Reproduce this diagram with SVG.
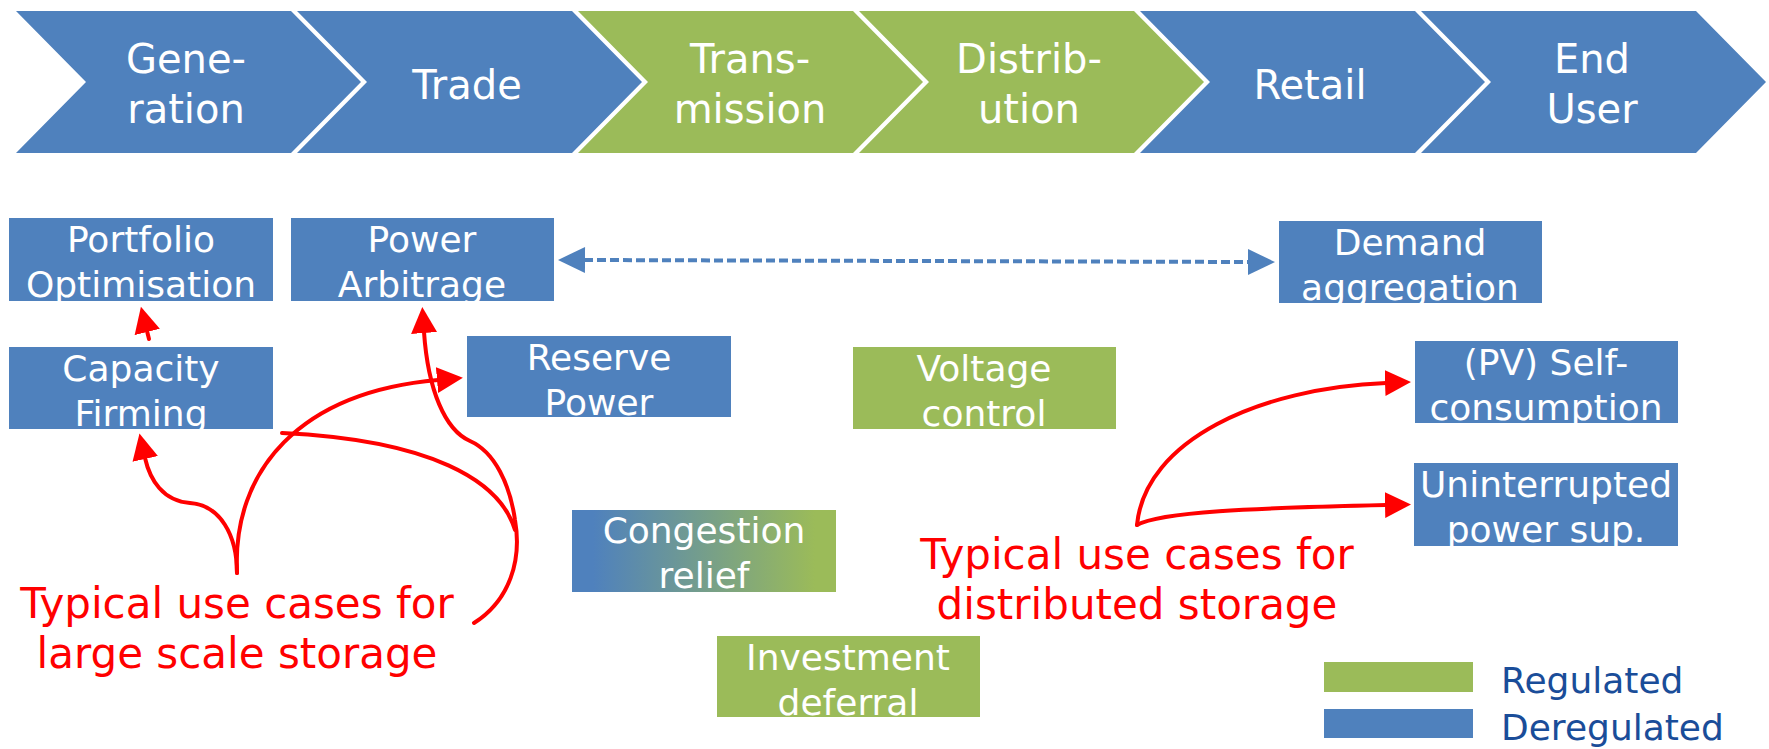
<svg xmlns="http://www.w3.org/2000/svg" width="1769" height="749" viewBox="0 0 1769 749">
<style>
.blue{fill:#4F81BD}
.green{fill:#9BBB59}
.ct{font-family:"DejaVu Sans",Verdana,sans-serif;font-size:40px;fill:#FFFFFF;text-anchor:middle}
.bt{font-family:"DejaVu Sans",Verdana,sans-serif;font-size:36px;fill:#FFFFFF;text-anchor:middle}
.rt{font-family:"DejaVu Sans",Verdana,sans-serif;font-size:42px;fill:#FF0000;text-anchor:middle}
.lt{font-family:"DejaVu Sans",Verdana,sans-serif;font-size:36px;fill:#1A4D99}
.red{fill:none;stroke:#FF0000;stroke-width:4;stroke-linecap:round}
.dash{fill:none;stroke:#4F81BD;stroke-width:4;stroke-dasharray:9 4}
</style>
<defs>
<linearGradient id="grad" x1="0" y1="0" x2="1" y2="0">
<stop offset="0.08" stop-color="#4F81BD"/>
<stop offset="0.92" stop-color="#9BBB59"/>
</linearGradient>
<marker id="ra" markerUnits="userSpaceOnUse" markerWidth="28" markerHeight="28" refX="1" refY="13" orient="auto">
<path d="M0,0 L26,13 L0,26 Z" fill="#FF0000"/>
</marker>
<marker id="ba" markerUnits="userSpaceOnUse" markerWidth="30" markerHeight="30" refX="1" refY="13" orient="auto">
<path d="M0,0 L27,13 L0,26 Z" fill="#4F81BD"/>
</marker>
<marker id="bs" markerUnits="userSpaceOnUse" markerWidth="30" markerHeight="30" refX="26" refY="13" orient="auto">
<path d="M27,0 L0,13 L27,26 Z" fill="#4F81BD"/>
</marker>
</defs>

<g id="chev-generation">
<polygon class="blue" points="16,11 291,11 361,82 291,153 16,153 86,82"/>
<text class="ct" x="186" y="73">Gene-</text>
<text class="ct" x="186" y="123">ration</text>
</g>
<g id="chev-trade">
<polygon class="blue" points="297,11 572,11 642,82 572,153 297,153 367,82"/>
<text class="ct" x="467" y="99">Trade</text>
</g>
<g id="chev-transmission">
<polygon class="green" points="578,11 853,11 923,82 853,153 578,153 648,82"/>
<text class="ct" x="750" y="73">Trans-</text>
<text class="ct" x="750" y="123">mission</text>
</g>
<g id="chev-distribution">
<polygon class="green" points="859,11 1134,11 1204,82 1134,153 859,153 929,82"/>
<text class="ct" x="1029" y="73">Distrib-</text>
<text class="ct" x="1029" y="123">ution</text>
</g>
<g id="chev-retail">
<polygon class="blue" points="1140,11 1415,11 1485,82 1415,153 1140,153 1210,82"/>
<text class="ct" x="1310" y="99">Retail</text>
</g>
<g id="chev-enduser">
<polygon class="blue" points="1421,11 1696,11 1766,82 1696,153 1421,153 1491,82"/>
<text class="ct" x="1592" y="73">End</text>
<text class="ct" x="1592" y="123">User</text>
</g>

<g id="portfolio">
<rect class="blue" x="9" y="218" width="264" height="83"/>
<text class="bt" x="141" y="252">Portfolio</text>
<text class="bt" x="141" y="297">Optimisation</text>
</g>
<g id="arbitrage">
<rect class="blue" x="291" y="218" width="263" height="83"/>
<text class="bt" x="422" y="252">Power</text>
<text class="bt" x="422" y="297">Arbitrage</text>
</g>
<g id="capacity">
<rect class="blue" x="9" y="347" width="264" height="82"/>
<text class="bt" x="141" y="381">Capacity</text>
<text class="bt" x="141" y="426">Firming</text>
</g>
<g id="reserve">
<rect class="blue" x="467" y="336" width="264" height="81"/>
<text class="bt" x="599" y="370">Reserve</text>
<text class="bt" x="599" y="415">Power</text>
</g>
<g id="voltage">
<rect class="green" x="853" y="347" width="263" height="82"/>
<text class="bt" x="984" y="381">Voltage</text>
<text class="bt" x="984" y="426">control</text>
</g>
<g id="demand">
<rect class="blue" x="1279" y="221" width="263" height="82"/>
<text class="bt" x="1410" y="255">Demand</text>
<text class="bt" x="1410" y="300">aggregation</text>
</g>
<g id="selfconsumption">
<rect class="blue" x="1415" y="341" width="263" height="82"/>
<text class="bt" x="1546" y="375">(PV) Self-</text>
<text class="bt" x="1546" y="420">consumption</text>
</g>
<g id="ups">
<rect class="blue" x="1414" y="463" width="264" height="83"/>
<text class="bt" x="1546" y="497">Uninterrupted</text>
<text class="bt" x="1546" y="542">power sup.</text>
</g>
<g id="congestion">
<rect x="572" y="510" width="264" height="82" fill="url(#grad)"/>
<text class="bt" x="704" y="543">Congestion</text>
<text class="bt" x="704" y="588">relief</text>
</g>
<g id="investment">
<rect class="green" x="717" y="636" width="263" height="81"/>
<text class="bt" x="848" y="670">Investment</text>
<text class="bt" x="848" y="715">deferral</text>
</g>

<g id="label-large">
<text class="rt" x="237" y="618">Typical use cases for</text>
<text class="rt" x="237" y="668">large scale storage</text>
</g>
<g id="label-distributed">
<text class="rt" x="1137" y="569">Typical use cases for</text>
<text class="rt" x="1137" y="619">distributed storage</text>
</g>

<g id="legend">
<rect class="green" x="1324" y="662" width="149" height="30"/>
<rect class="blue" x="1324" y="709" width="149" height="29"/>
<text class="lt" x="1501" y="693">Regulated</text>
<text class="lt" x="1501" y="740">Deregulated</text>
</g>

<g id="connectors">
<path class="dash" d="M584,260 L1249,262" marker-start="url(#bs)" marker-end="url(#ba)"/>
<path class="red" d="M149,339 L147,331" marker-end="url(#ra)"/>
<path class="red" d="M237,573 C237,535 220,505 190,503 C163,501 150,480 145,458" marker-end="url(#ra)"/>
<path class="red" d="M237,573 C232,470 300,392 438,380" marker-end="url(#ra)"/>
<path class="red" d="M474,623 C510,600 522,560 515,520 C510,485 495,452 470,441 C445,430 428,390 424,332" marker-end="url(#ra)"/>
<path class="red" d="M515,530 C500,480 430,440 282,433"/>
<path class="red" d="M1137,525 C1145,440 1260,388 1386,383" marker-end="url(#ra)"/>
<path class="red" d="M1137,525 C1160,512 1250,508 1386,505" marker-end="url(#ra)"/>
</g>
</svg>
